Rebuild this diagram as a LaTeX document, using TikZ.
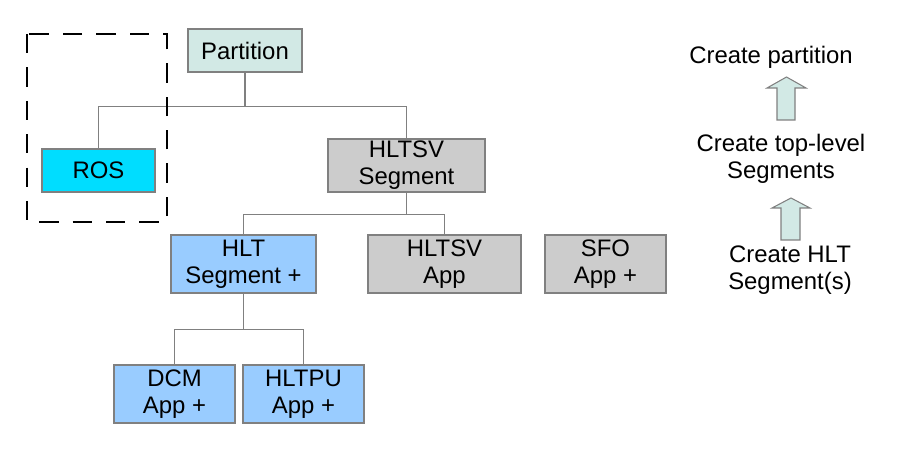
\documentclass[tikz,border=0pt]{standalone}
\usepackage{fontspec}
\setmainfont{Liberation Sans}
\definecolor{partfill}{RGB}{210,233,229}
\definecolor{rosfill}{RGB}{0,221,255}
\definecolor{hltfill}{RGB}{153,204,255}
\definecolor{greyfill}{RGB}{204,204,204}
\definecolor{edgegrey}{RGB}{128,128,128}
\begin{document}
\begin{tikzpicture}[x=0.02cm,y=-0.02cm,
	every node/.style={font=\fontsize{13.6}{15.3}\selectfont,align=center,inner sep=0pt},
	box/.style={draw=edgegrey,line width=0.6pt,minimum height=43*0.02cm},
	tallbox/.style={box,minimum height=58*0.02cm},
	link/.style={draw=edgegrey,line width=0.6pt},
	blockarrow/.style={draw=edgegrey,line width=0.6pt,fill=partfill}]
			\useasboundingbox (0,0) rectangle (900,449);

			\node[box,fill=partfill,minimum width=114*0.02cm] at (245,50.5) (part) {Partition};
			\node[box,fill=rosfill,minimum width=113*0.02cm] at (98.5,170.5) (ros) {ROS};
			\node[box,fill=greyfill,minimum width=157*0.02cm,minimum height=53*0.02cm] at (406.5,165.5) (hltsvseg) {HLTSV\\Segment};
			\draw[link] (part.south) -- ++(0,34) -| (ros.north);
			\draw[link] (part.south) -- ++(0,34) -| (hltsvseg.north);

			\node[tallbox,fill=hltfill,minimum width=145*0.02cm] at (243.5,264) (hltseg) {HLT\\Segment +};
			\node[tallbox,fill=greyfill,minimum width=153*0.02cm] at (444.5,264) (hltsvapp) {HLTSV\\App};
			\node[tallbox,fill=greyfill,minimum width=121*0.02cm] at (605.5,264) (sfoapp) {SFO\\App +};
			\draw[link] (hltsvseg.south) -- ++(0,22) -| (hltseg.north);
			\draw[link] (hltsvseg.south) -- ++(0,22) -| (hltsvapp.north);

			\node[tallbox,fill=hltfill,minimum width=121*0.02cm] at (174.5,394) (dcmapp) {DCM\\App +};
			\node[tallbox,fill=hltfill,minimum width=121*0.02cm] at (303.5,394) (hltpuapp) {HLTPU\\App +};
			\draw[link] (hltseg.south) -- ++(0,36) -| (dcmapp.north);
			\draw[link] (hltseg.south) -- ++(0,36) -| (hltpuapp.north);

			% dashed frame round ROS
			\draw[line width=1.3pt,dash pattern=on 11pt off 8pt] (27,34) rectangle (167,222);

			\node at (771,57) (step1) {Create partition};
			\node at (781,159) (step2) {Create top-level\\Segments};
			\node at (790,270) (step3) {Create HLT\\Segment(s)};
			\draw[blockarrow] (777,120) -- (777,88) -- (767,88) -- (786.5,77) -- (806,88) -- (795,88) -- (795,120) -- cycle;
			\draw[blockarrow] (781,240) -- (781,208) -- (772,208) -- (791,198) -- (810,208) -- (800,208) -- (800,240) -- cycle;
		\end{tikzpicture}
\end{document}
